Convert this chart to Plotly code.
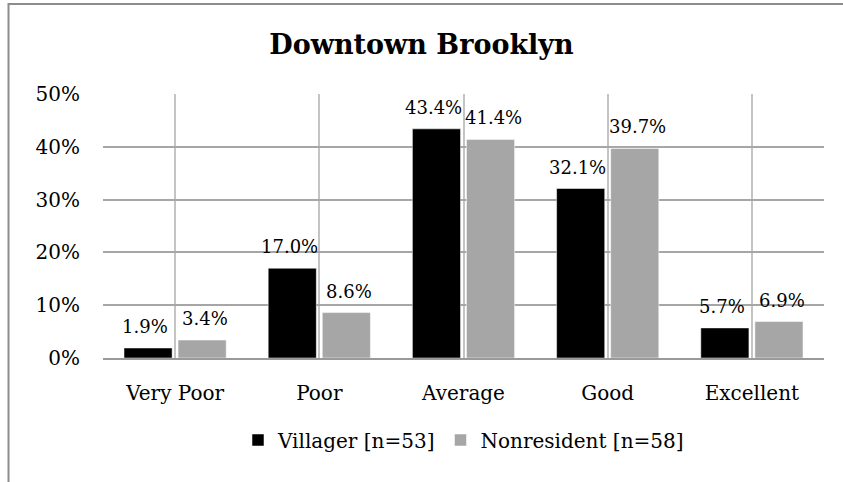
import plotly.graph_objects as go

categories = ["Very Poor", "Poor", "Average", "Good", "Excellent"]
villager = [1.9, 17.0, 43.4, 32.1, 5.7]
nonresident = [3.4, 8.6, 41.4, 39.7, 6.9]
series_names = ["Villager [n=53]", "Nonresident [n=58]"]
y_ticks = [0, 10, 20, 30, 40, 50]
y_tick_labels = ["0%", "10%", "20%", "30%", "40%", "50%"]

FONT = "Georgia, 'DejaVu Serif', serif"
W, H = 843, 482
L, R, T, B = 103, 19, 94, 124
pw, ph = W - L - R, H - T - B

fig = go.Figure()
fig.add_trace(go.Bar(x=categories, y=villager, name=series_names[0],
                     marker=dict(color="#000000", line=dict(color="white", width=0.5))))
fig.add_trace(go.Bar(x=categories, y=nonresident, name=series_names[1],
                     marker=dict(color="#a6a6a6", line=dict(color="white", width=0.5))))

annotations = []
for vals, shift in ((villager, -30), (nonresident, 30)):
    for c, v in zip(categories, vals):
        annotations.append(dict(x=c, y=v, xref="x", yref="y", text=f"{v:.1f}%",
                                showarrow=False, xshift=shift, yshift=9,
                                yanchor="bottom", font=dict(family=FONT, size=18, color="#000")))

fig.update_layout(
    width=W, height=H,
    margin=dict(l=L, r=R, t=T, b=B, autoexpand=False),
    paper_bgcolor="white", plot_bgcolor="white",
    barmode="group", bargap=0.25, bargroupgap=0.11,
    title=dict(text="<b>Downtown Brooklyn</b>", x=0.5, xanchor="center",
               y=1 - 45 / H, yanchor="middle", yref="container",
               font=dict(family=FONT, size=27, color="#000")),
    font=dict(family=FONT, size=20, color="#000"),
    xaxis=dict(showgrid=True, gridcolor="#c4c4c4", gridwidth=1.5,
               showline=True, linecolor="#9a9a9a", linewidth=2,
               ticks="outside", ticklen=0, ticklabelstandoff=16, automargin=False,
               tickfont=dict(family=FONT, size=20, color="#000")),
    yaxis=dict(range=[0, 50], tickvals=y_ticks, ticktext=y_tick_labels,
               showgrid=True, gridcolor="#a6a6a6", gridwidth=1.5,
               zeroline=False, showline=False, ticklabelstandoff=22, automargin=False,
               tickfont=dict(family=FONT, size=20, color="#000")),
    legend=dict(orientation="h", x=0.5, xanchor="center", y=(358 - 440) / ph,
                yanchor="middle", font=dict(family=FONT, size=20, color="#000"),
                itemwidth=30, tracegroupgap=0),
    annotations=annotations,
    shapes=[dict(type="rect", xref="paper", yref="paper",
                 x0=(8.5 - L) / pw, x1=(W + 30 - L) / pw, y0=-2, y1=(358 - 4) / ph,
                 line=dict(color="#8c8c8c", width=2), fillcolor="rgba(0,0,0,0)",
                 layer="below")],
)

fig.write_html("out.html", config={"displayModeBar": False},
               post_script="document.body.style.margin='0';")
